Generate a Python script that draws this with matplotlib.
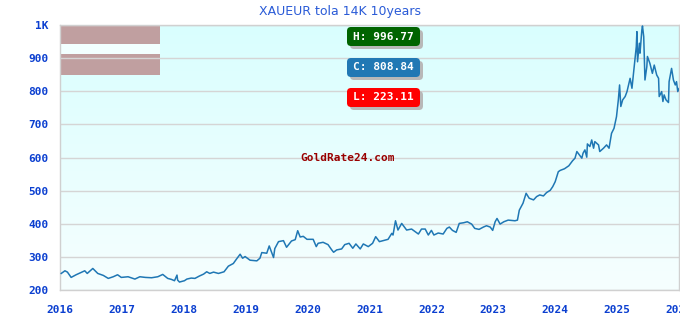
import numpy as np
import matplotlib
matplotlib.use("Agg")
import matplotlib.pyplot as plt
from matplotlib.colors import LinearSegmentedColormap
from matplotlib.patches import Rectangle, FancyBboxPatch
from matplotlib.transforms import IdentityTransform

title = "XAUEUR tola 14K 10years"
dates = [
    2016.02, 2016.08, 2016.12, 2016.18, 2016.26, 2016.34, 2016.40, 2016.44, 2016.53, 2016.61,
    2016.70, 2016.78, 2016.86, 2016.93, 2016.99, 2017.10, 2017.21, 2017.29, 2017.38, 2017.48,
    2017.58, 2017.66, 2017.74, 2017.80, 2017.85, 2017.89, 2017.90, 2017.93, 2018.01, 2018.05,
    2018.12, 2018.18, 2018.25, 2018.32, 2018.37, 2018.42, 2018.48, 2018.56, 2018.65, 2018.72,
    2018.80, 2018.85, 2018.91, 2018.95, 2018.99, 2019.07, 2019.18, 2019.23, 2019.26, 2019.34,
    2019.38, 2019.45, 2019.47, 2019.53, 2019.61, 2019.66, 2019.74, 2019.80, 2019.84, 2019.88,
    2019.93, 2019.99, 2020.09, 2020.14, 2020.17, 2020.25, 2020.33, 2020.39, 2020.42, 2020.47,
    2020.55, 2020.60, 2020.67, 2020.73, 2020.78, 2020.85, 2020.90, 2020.98, 2021.05, 2021.10,
    2021.16, 2021.22, 2021.30, 2021.36, 2021.38, 2021.42, 2021.46, 2021.49, 2021.52, 2021.60,
    2021.68, 2021.79, 2021.84, 2021.90, 2021.95, 2022.00, 2022.04, 2022.11, 2022.19, 2022.25,
    2022.29, 2022.34, 2022.40, 2022.45, 2022.52, 2022.58, 2022.65, 2022.70, 2022.77, 2022.84,
    2022.89, 2022.95, 2022.99, 2023.03, 2023.06, 2023.11, 2023.17, 2023.24, 2023.35, 2023.39,
    2023.42, 2023.48, 2023.53, 2023.58, 2023.65, 2023.70, 2023.75, 2023.81, 2023.86, 2023.92,
    2023.96, 2024.00, 2024.05, 2024.08, 2024.15, 2024.22, 2024.28, 2024.32, 2024.35, 2024.39,
    2024.43, 2024.45, 2024.48, 2024.51, 2024.52, 2024.56, 2024.59, 2024.62, 2024.64, 2024.70,
    2024.72, 2024.78, 2024.83, 2024.87, 2024.91, 2024.95, 2024.99, 2025.02, 2025.04, 2025.06,
    2025.09, 2025.13, 2025.16, 2025.21, 2025.24, 2025.27, 2025.31, 2025.32, 2025.33, 2025.36,
    2025.37, 2025.40, 2025.41, 2025.43, 2025.45, 2025.48, 2025.49, 2025.53, 2025.57, 2025.60,
    2025.64, 2025.67, 2025.68, 2025.72, 2025.74, 2025.76, 2025.79, 2025.83, 2025.84, 2025.88,
    2025.91, 2025.94, 2025.96, 2025.98, 2026.00,
]
prices = [
    250, 258, 254, 238, 246, 253, 258, 250, 265, 250,
    244, 235, 240, 246, 238, 240, 233, 240, 238, 237,
    240, 247, 235, 232, 228, 245, 230, 224, 228, 233,
    236, 235, 242, 248, 255, 250, 254, 250, 255, 272,
    280, 293, 308, 296, 301, 290, 288, 296, 313, 311,
    333, 298, 325, 346, 349, 329, 348, 352, 379, 360,
    362, 353, 353, 331, 341, 344, 337, 321, 314, 321,
    324, 337, 341, 326, 339, 324, 339, 331, 341, 361,
    346, 349, 353, 371, 366, 409, 381, 391, 401, 381,
    384, 369, 384, 384, 366, 380, 366, 372, 369, 386,
    390, 380, 374, 401, 403, 406, 399, 386, 383, 390,
    394, 390, 380, 406, 416, 399, 406, 411, 409, 411,
    441, 462, 492, 477, 472, 482, 487, 484, 494, 501,
    512, 527, 557, 561, 566, 575, 590, 598, 618, 608,
    598, 613, 623, 601, 641, 633, 653, 628, 648, 638,
    618, 628, 638, 628, 673, 688, 723, 774, 819, 754,
    774, 784, 799, 839, 809, 864, 935, 980, 889, 945,
    915, 985, 997, 965, 834, 874, 905, 884, 854, 879,
    849, 839, 784, 799, 769, 789, 774, 766, 829, 869,
    834, 819, 829, 799, 808,
]
year_ticks = list(range(2016, 2027))
y_ticks = [200, 300, 400, 500, 600, 700, 800, 900, 1000]
y_tick_labels = ["200", "300", "400", "500", "600", "700", "800", "900", "1K"]
high_label = "H: 996.77"
close_label = "C: 808.84"
low_label = "L: 223.11"
watermark = "GoldRate24.com"

W, H = 680, 320
fig = plt.figure(figsize=(W / 100, H / 100), dpi=100)
fig.patch.set_facecolor("white")
L, R, T, B = 60, 679, 25, 290
ax = fig.add_axes([L / W, 1 - B / H, (R - L) / W, (B - T) / H])

# gradient background
cmap = LinearSegmentedColormap.from_list("bg", ["#f6ffff", "#d9fefe"])
grad = np.linspace(0, 1, 256).reshape(-1, 1)
ax.imshow(grad, extent=[0, 1, 0, 1], transform=ax.transAxes, aspect="auto",
          cmap=cmap, origin="lower", zorder=0)

# legend-like boxes top-left
ah = B - T
aw = R - L
ax.add_patch(Rectangle((0, 1 - 44 / ah + 25 / ah), 100 / aw, 19 / ah - 0.7 / ah,
                       transform=ax.transAxes, facecolor="#c09fa0", edgecolor="none", zorder=1))
ax.add_patch(Rectangle((0, 1 - (54 - 25) / ah), 100 / aw, (54 - 44) / ah,
                       transform=ax.transAxes, facecolor="#f2ffff", edgecolor="none", zorder=1))
ax.add_patch(Rectangle((0, 1 - (75 - 25) / ah), 100 / aw, (75 - 54) / ah,
                       transform=ax.transAxes, facecolor="#c09fa0", edgecolor="none", zorder=1))

ax.plot(dates, prices, color="#1f77b4", lw=1.1, zorder=3)

ax.set_xlim(2016, 2026)
ax.set_ylim(200, 1000)
ax.set_xticks(year_ticks)
ax.set_xticklabels([str(y) for y in year_ticks])
ax.set_yticks(y_ticks)
ax.set_yticklabels(y_tick_labels)
ax.grid(axis="y", color="#d5d5d5", lw=1, zorder=2)
ax.grid(axis="x", visible=False)
ax.tick_params(length=0, pad=8, labelsize=8, labelcolor="#0b3fd0")
for lab in ax.get_xticklabels() + ax.get_yticklabels():
    lab.set_fontfamily("DejaVu Sans Mono")
    lab.set_fontweight("bold")
ax.tick_params(axis="x", pad=11)
for s in ax.spines.values():
    s.set_color("#d0d0d0")
    s.set_linewidth(1)

fig.text(0.5, 1 - 11 / H, title, ha="center", va="center", fontsize=9,
         color="#2a5bd7", family="DejaVu Sans")

# H/C/L badges
def badge(y0, y1, text, color):
    x0, x1 = 347, 420
    sh = FancyBboxPatch((x0 + 3, H - y1 - 3), x1 - x0, y1 - y0,
                        boxstyle="round,pad=0,rounding_size=4",
                        transform=IdentityTransform(), facecolor="#b8b8b8",
                        edgecolor="none", zorder=5)
    fig.add_artist(sh)
    bx = FancyBboxPatch((x0, H - y1), x1 - x0, y1 - y0,
                        boxstyle="round,pad=0,rounding_size=4",
                        transform=IdentityTransform(), facecolor=color,
                        edgecolor="none", zorder=6)
    fig.add_artist(bx)
    fig.text((x0 + x1) / 2 / W, 1 - (y0 + y1) / 2 / H, text, ha="center", va="center",
             fontsize=8, color="white", family="DejaVu Sans Mono", fontweight="bold", zorder=7)

badge(27, 46, high_label, "#006400")
badge(58, 77, close_label, "#2178b4")
badge(88, 107, low_label, "#ff0000")

fig.text(348 / W, 1 - 158 / H, watermark, ha="center", va="center", fontsize=8,
         color="#990000", family="DejaVu Sans Mono", fontweight="bold")

fig.savefig("out.png", dpi=100)
